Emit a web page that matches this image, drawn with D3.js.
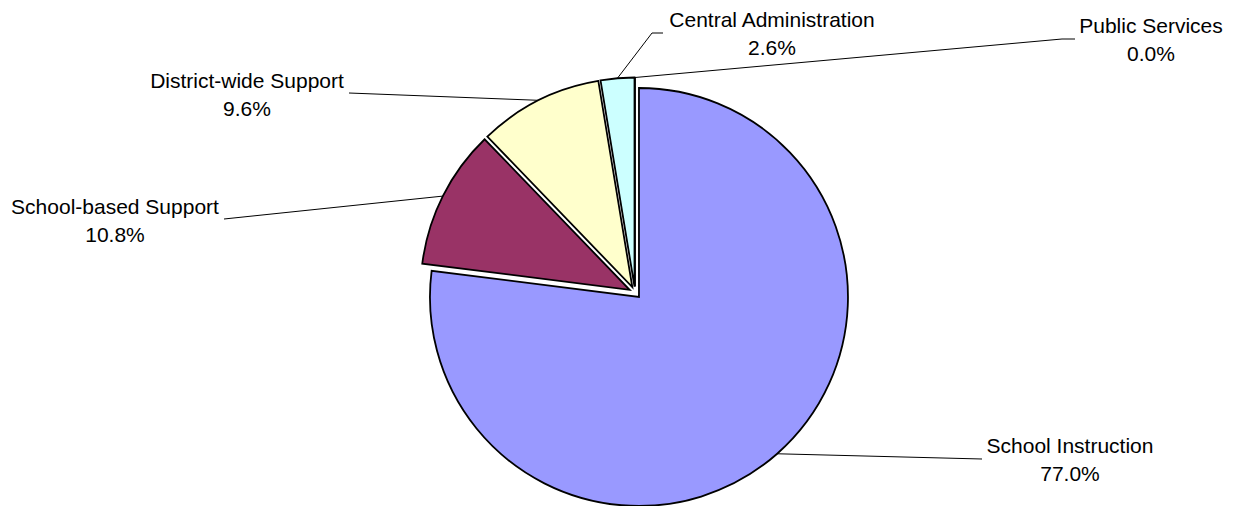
<!DOCTYPE html>
<html>
<head>
<meta charset="utf-8">
<script src="https://cdn.jsdelivr.net/npm/d3@7"></script>
<style>
  html, body { margin: 0; padding: 0; background: #ffffff; }
  svg { display: block; }
  text { font-family: "Liberation Sans", Arial, sans-serif; font-size: 21px; fill: #000; }
</style>
</head>
<body>
<svg id="chart" width="1238" height="506"></svg>
<script>
// ---- data ----
const categories = ["School Instruction", "School-based Support", "District-wide Support", "Central Administration", "Public Services"];
const values = [77.0, 10.8, 9.6, 2.6, 0.0];
const percentLabels = ["77.0%", "10.8%", "9.6%", "2.6%", "0.0%"];
const colors = ["#9999FF", "#993366", "#FFFFCC", "#CCFFFF", "#FFFFFF"];

// ---- layout ----
const cx = 635, cy = 292.5, radius = 209, explode = 6;
const lineGap = 28;
// label text anchor (centre x, first baseline y) and leader-line bend points
const labelLayout = [
  { tx: 1070, ty: 453, path: [[982, 459]] },
  { tx: 115,  ty: 214, path: [[224, 219]] },
  { tx: 247,  ty: 88,  path: [[349, 93]] },
  { tx: 772,  ty: 27,  path: [[652, 33], [663, 33]] },
  { tx: 1151, ty: 33,  path: [[1062, 39], [1075, 39]] }
];

const svg = d3.select("#chart");
const pie = d3.pie().sort(null).value(d => d).startAngle(0).endAngle(2 * Math.PI);
const arcs = pie(values);
const arc = d3.arc().innerRadius(0).outerRadius(radius);

// leader lines (under slices)
const lines = svg.append("g");
arcs.forEach((a, i) => {
  const mid = (a.startAngle + a.endAngle) / 2;
  const rr = explode + radius;
  const start = [cx + rr * Math.sin(mid), cy - rr * Math.cos(mid)];
  const pts = [start].concat(labelLayout[i].path);
  lines.append("path")
    .attr("d", d3.line()(pts))
    .attr("fill", "none")
    .attr("stroke", "#000")
    .attr("stroke-width", 1);
});

// slices (each exploded slightly outward)
const g = svg.append("g").attr("transform", `translate(${cx},${cy})`);
g.selectAll("path.slice")
  .data(arcs)
  .enter()
  .append("path")
  .attr("class", "slice")
  .attr("transform", d => {
    const mid = (d.startAngle + d.endAngle) / 2;
    return `translate(${explode * Math.sin(mid)},${-explode * Math.cos(mid)})`;
  })
  .attr("d", d => d.endAngle - d.startAngle > 0 ? arc(d) : `M0,0L0,${-radius}`)
  .attr("fill", (d, i) => colors[i])
  .attr("stroke", "#000")
  .attr("stroke-width", 1.8)
  .attr("stroke-linejoin", "miter");

// labels
const lab = svg.append("g");
categories.forEach((c, i) => {
  const L = labelLayout[i];
  const t = lab.append("text").attr("text-anchor", "middle");
  t.append("tspan").attr("x", L.tx).attr("y", L.ty).text(c);
  t.append("tspan").attr("x", L.tx).attr("y", L.ty + lineGap).text(percentLabels[i]);
});
</script>
</body>
</html>
